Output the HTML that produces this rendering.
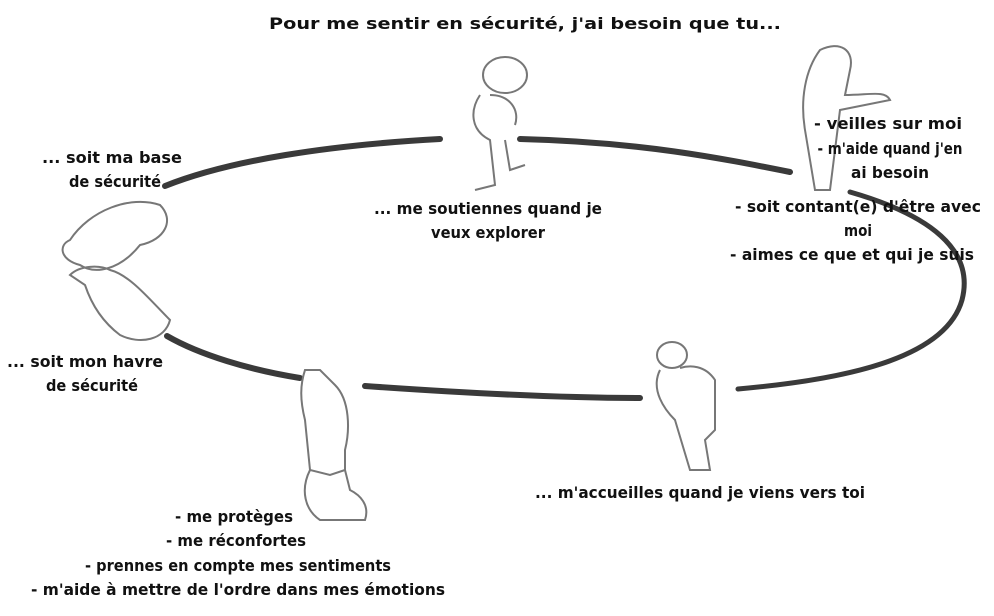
<!DOCTYPE html>
<html><head><meta charset="utf-8"><style>
html,body{margin:0;padding:0;background:#fff;}
svg{display:block}
text{font-family:"DejaVu Sans","Liberation Sans",sans-serif;font-weight:bold;fill:#111;font-size:16px;}
</style></head><body>
<svg width="994" height="616" viewBox="0 0 994 616" xmlns="http://www.w3.org/2000/svg">
<g fill="none" stroke="#3a3a3a" stroke-linecap="round">
<path d="M165 186 C230 160 330 145 440 139" stroke-width="6"/>
<path d="M520 139 C640 142 720 158 790 172" stroke-width="6"/>
<path d="M850 192 C930 215 975 250 962 300 C945 360 840 380 738 389" stroke-width="5"/>
<path d="M365 386 C450 392 560 398 640 398" stroke-width="6"/>
<path d="M167 336 C200 355 250 370 300 378" stroke-width="6"/>
</g>
<g fill="none" stroke="#777" stroke-width="2">
<path d="M70 240 C90 210 130 195 160 205 C175 220 165 240 140 245 C120 270 95 275 80 265 C60 260 58 245 70 240Z"/>
<path d="M70 275 C80 265 100 265 110 270 C130 275 150 300 170 320 C165 340 140 345 120 335 C100 320 90 300 85 285Z"/>
<ellipse cx="505" cy="75" rx="22" ry="18"/>
<path d="M480 95 C470 110 470 130 490 140 L495 185 L475 190 M505 140 L510 170 L525 165 M490 95 C510 95 520 110 515 125"/>
<path d="M820 50 C840 40 855 50 850 70 L845 95 C870 95 885 90 890 100 L840 110 L830 190 L815 190 L805 130 C800 100 805 70 820 50Z"/>
<ellipse cx="672" cy="355" rx="15" ry="13"/>
<path d="M660 370 C650 390 665 410 675 420 L690 470 L710 470 L705 440 L715 430 L715 380 C705 365 690 365 680 368"/>
<path d="M305 370 L320 370 L335 385 C350 400 350 430 345 450 L345 470 L330 475 L310 470 L305 420 C300 400 300 385 305 370Z M310 470 C300 490 305 510 320 520 L365 520 C370 505 360 495 350 490 L345 470"/>
</g>
<text x="525" y="29" text-anchor="middle" font-size="18" textLength="512" lengthAdjust="spacingAndGlyphs">Pour me sentir en sécurité, j'ai besoin que tu...</text>
<text x="112" y="163" text-anchor="middle" textLength="140" lengthAdjust="spacingAndGlyphs">... soit ma base</text>
<text x="115" y="187" text-anchor="middle" textLength="92" lengthAdjust="spacingAndGlyphs">de sécurité</text>
<text x="488" y="214" text-anchor="middle" textLength="228" lengthAdjust="spacingAndGlyphs">... me soutiennes quand je</text>
<text x="488" y="238" text-anchor="middle" textLength="114" lengthAdjust="spacingAndGlyphs">veux explorer</text>
<text x="888" y="129" text-anchor="middle" textLength="148" lengthAdjust="spacingAndGlyphs">- veilles sur moi</text>
<text x="890" y="154" text-anchor="middle" textLength="145" lengthAdjust="spacingAndGlyphs">- m'aide quand j'en</text>
<text x="890" y="178" text-anchor="middle" textLength="78" lengthAdjust="spacingAndGlyphs">ai besoin</text>
<text x="858" y="212" text-anchor="middle" textLength="246" lengthAdjust="spacingAndGlyphs">- soit contant(e) d'être avec</text>
<text x="858" y="236" text-anchor="middle" textLength="28" lengthAdjust="spacingAndGlyphs">moi</text>
<text x="852" y="260" text-anchor="middle" textLength="244" lengthAdjust="spacingAndGlyphs">- aimes ce que et qui je suis</text>
<text x="85" y="367" text-anchor="middle" textLength="156" lengthAdjust="spacingAndGlyphs">... soit mon havre</text>
<text x="92" y="391" text-anchor="middle" textLength="92" lengthAdjust="spacingAndGlyphs">de sécurité</text>
<text x="700" y="498" text-anchor="middle" textLength="330" lengthAdjust="spacingAndGlyphs">... m'accueilles quand je viens vers toi</text>
<text x="234" y="522" text-anchor="middle" textLength="118" lengthAdjust="spacingAndGlyphs">- me protèges</text>
<text x="236" y="546" text-anchor="middle" textLength="140" lengthAdjust="spacingAndGlyphs">- me réconfortes</text>
<text x="238" y="571" text-anchor="middle" textLength="306" lengthAdjust="spacingAndGlyphs">- prennes en compte mes sentiments</text>
<text x="238" y="595" text-anchor="middle" textLength="414" lengthAdjust="spacingAndGlyphs">- m'aide à mettre de l'ordre dans mes émotions</text>
</svg>
</body></html>
